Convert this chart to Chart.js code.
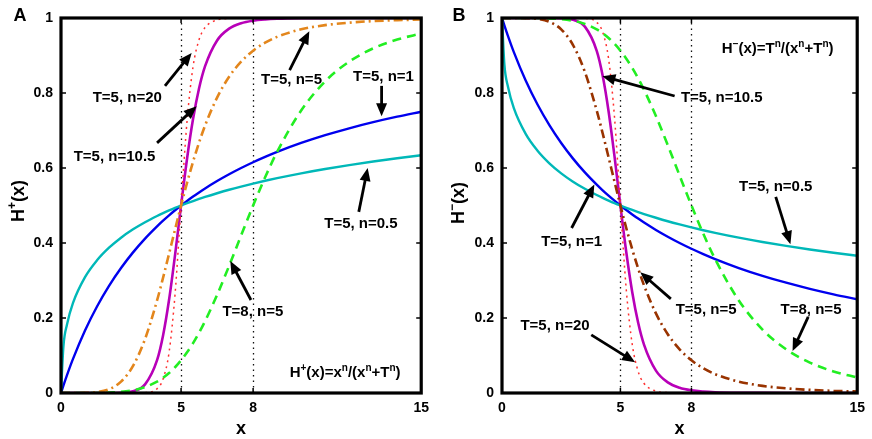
<!DOCTYPE html>
<html><head><meta charset="utf-8">
<script src="https://cdn.jsdelivr.net/npm/chart.js@4.4.0/dist/chart.umd.min.js"></script>
<style>html,body{margin:0;padding:0;background:#fff;}#wrap{position:relative;width:872px;height:439px;}canvas{position:absolute;top:0;}</style>
</head><body>
<div id="wrap"><canvas id="cA" width="436" height="439" style="left:0px"></canvas><canvas id="cB" width="436" height="439" style="left:436px"></canvas></div>
<script>
// ---- data ----
const xs = [0,0.1,0.25,0.5,1,1.5,2,2.5,3,3.5,4,4.25,4.5,4.75,5,5.25,5.5,5.75,6,6.5,7,7.5,8,8.5,9,10,11,12,13,14,15];
const xTicks = [0,5,8,15];
const xTickLabels = ['0','5','8','15'];
const yTicks = [0,0.2,0.4,0.6,0.8,1];
const yTickLabels = ['0','0.2','0.4','0.6','0.8','1'];
const refLines = [5,8];

// Panel A: H+(x)
const upN20  = [0,0,0,0,0,0,0,0,0,0.0008,0.0114,0.0373,0.1084,0.2639,0.5,0.7263,0.8706,0.9424,0.9746,0.9948,0.9988,0.9997,1,1,1,1,1,1,1,1,1];
const upN105 = [0,0,0,0,0,0,0.0001,0.0007,0.0047,0.0231,0.0876,0.1536,0.2486,0.3685,0.5,0.6254,0.7312,0.8127,0.8715,0.9402,0.9716,0.9860,0.9929,0.9962,0.9979,0.9993,0.9997,0.9999,1,1,1];
const upN5   = [0,0,0,0,0.0003,0.0024,0.0101,0.0303,0.0721,0.1439,0.2468,0.3073,0.3713,0.4362,0.5,0.5607,0.6170,0.6679,0.7133,0.7878,0.8432,0.8836,0.9129,0.9342,0.9497,0.9697,0.9810,0.9876,0.9917,0.9942,0.9959];
const upN1   = [0,0.0196,0.0476,0.0909,0.1667,0.2308,0.2857,0.3333,0.3750,0.4118,0.4444,0.4595,0.4737,0.4872,0.5,0.5122,0.5238,0.5349,0.5455,0.5652,0.5833,0.6,0.6154,0.6296,0.6429,0.6667,0.6875,0.7059,0.7222,0.7368,0.75];
const upN05  = [0,0.1239,0.1827,0.2403,0.3090,0.3539,0.3874,0.4142,0.4365,0.4555,0.4721,0.4797,0.4868,0.4936,0.5,0.5061,0.5119,0.5175,0.5228,0.5327,0.5420,0.5505,0.5585,0.5659,0.5729,0.5858,0.5973,0.6077,0.6172,0.6259,0.6340];
const upT8N5 = [0,0,0,0,0,0.0002,0.0010,0.0030,0.0074,0.0158,0.0303,0.0406,0.0533,0.0687,0.0871,0.1085,0.1331,0.1610,0.1918,0.2615,0.3390,0.4200,0.5,0.5752,0.6431,0.7532,0.8310,0.8836,0.9189,0.9426,0.9586];

// Panel B: H-(x)
const dnN20  = [1,1,1,1,1,1,1,1,1,0.9992,0.9886,0.9627,0.8916,0.7361,0.5,0.2737,0.1294,0.0576,0.0254,0.0052,0.0012,0.0003,0,0,0,0,0,0,0,0,0];
const dnN105 = [1,1,1,1,1,1,0.9999,0.9993,0.9953,0.9769,0.9124,0.8464,0.7514,0.6315,0.5,0.3746,0.2688,0.1873,0.1285,0.0598,0.0284,0.0140,0.0071,0.0038,0.0021,0.0007,0.0003,0.0001,0,0,0];
const dnN5   = [1,1,1,1,0.9997,0.9976,0.9899,0.9697,0.9279,0.8561,0.7532,0.6927,0.6287,0.5638,0.5,0.4393,0.3830,0.3321,0.2867,0.2122,0.1568,0.1164,0.0871,0.0658,0.0503,0.0303,0.0190,0.0124,0.0083,0.0058,0.0041];
const dnN1   = [1,0.9804,0.9524,0.9091,0.8333,0.7692,0.7143,0.6667,0.6250,0.5882,0.5556,0.5405,0.5263,0.5128,0.5,0.4878,0.4762,0.4651,0.4545,0.4348,0.4167,0.4,0.3846,0.3704,0.3571,0.3333,0.3125,0.2941,0.2778,0.2632,0.25];
const dnN05  = [1,0.8761,0.8173,0.7597,0.6910,0.6461,0.6126,0.5858,0.5635,0.5445,0.5279,0.5203,0.5132,0.5064,0.5,0.4939,0.4881,0.4825,0.4772,0.4673,0.4580,0.4495,0.4415,0.4341,0.4271,0.4142,0.4027,0.3923,0.3828,0.3741,0.3660];
const dnT8N5 = [1,1,1,1,1,0.9998,0.9990,0.9970,0.9926,0.9842,0.9697,0.9594,0.9467,0.9313,0.9129,0.8915,0.8669,0.8390,0.8082,0.7385,0.6610,0.5800,0.5,0.4248,0.3569,0.2468,0.1690,0.1164,0.0811,0.0574,0.0414];

// annotation labels (text, text anchor in data coords, arrow tail -> head in data coords)
const annotTextA = ['T=5, n=20','T=5, n=10.5','T=5, n=5','T=5, n=1','T=5, n=0.5','T=8, n=5'];
const annotPosA  = [[2.76,0.787],[2.23,0.629],[9.60,0.835],[13.43,0.843],[12.49,0.451],[7.99,0.216]];
const annotArrA  = [[4.33,0.819,5.44,0.907],[4.0,0.667,5.65,0.765],[9.52,0.861,10.34,0.965],[13.35,0.819,13.35,0.738],[12.40,0.483,12.77,0.600],[7.91,0.248,7.05,0.352]];
const annotTextB = ['T=5, n=10.5','T=5, n=0.5','T=5, n=1','T=5, n=5','T=8, n=5','T=5, n=20'];
const annotPosB  = [[9.28,0.787],[11.56,0.549],[2.94,0.403],[8.62,0.221],[13.05,0.221],[2.24,0.179]];
const annotArrB  = [[7.29,0.792,4.24,0.845],[11.56,0.523,12.18,0.397],[2.94,0.44,3.90,0.556],[7.13,0.251,5.84,0.322],[12.93,0.203,12.27,0.112],[3.77,0.155,5.62,0.082]];
const formulaA = [['H',0],['+',1],['(x)=x',0],['n',1],['/(x',0],['n',1],['+T',0],['n',1],[')',0]];
const formulaB = [['H',0],['\u2212',1],['(x)=T',0],['n',1],['/(x',0],['n',1],['+T',0],['n',1],[')',0]];
const formulaPosA = [11.83,0.056];
const formulaPosB = [11.64,0.92];
const yTitleA = [['H',0],['+',1],['(x)',0]];
const yTitleB = [['H',0],['\u2212',1],['(x)',0]];

// ---- drawing ----
const FONT = '"Liberation Sans", Arial, Helvetica, sans-serif';
Chart.defaults.font.family = FONT;

function richWidth(ctx, segs, size){
  let w=0; const sup=Math.round(size*0.66);
  segs.forEach(([t,s])=>{ctx.font=`bold ${s?sup:size}px ${FONT}`; w+=ctx.measureText(t).width;});
  return w;
}
function rich(ctx, segs, cx, cy, size){
  const sup=Math.round(size*0.66);
  const w=richWidth(ctx,segs,size);
  let x=cx-w/2; const base=cy+size*0.36;
  ctx.textAlign='left'; ctx.textBaseline='alphabetic'; ctx.fillStyle='#000';
  segs.forEach(([t,s])=>{ctx.font=`bold ${s?sup:size}px ${FONT}`; ctx.fillText(t,x,s?base-size*0.45:base); x+=ctx.measureText(t).width;});
}
function arrow(ctx,x0,y0,x1,y1){
  const a=Math.atan2(y1-y0,x1-x0), L=13, W=5.5;
  const bx=x1-L*Math.cos(a), by=y1-L*Math.sin(a);
  ctx.save(); ctx.setLineDash([]); ctx.strokeStyle='#000'; ctx.lineWidth=2.8; ctx.lineCap='butt';
  ctx.beginPath(); ctx.moveTo(x0,y0); ctx.lineTo(bx+2*Math.cos(a),by+2*Math.sin(a)); ctx.stroke();
  ctx.fillStyle='#000'; ctx.beginPath(); ctx.moveTo(x1,y1);
  ctx.lineTo(bx+W*Math.sin(a),by-W*Math.cos(a)); ctx.lineTo(bx-W*Math.sin(a),by+W*Math.cos(a)); ctx.closePath(); ctx.fill();
  ctx.restore();
}

function makePanel(id, series, opt){
  const datasets = series.map(s=>({
    data: xs.map((x,i)=>({x:x,y:s.vals[i]})),
    borderColor:s.color, borderWidth:s.w, borderDash:s.dash||[], pointRadius:0,
    cubicInterpolationMode:'monotone', fill:false
  }));
  const deco = {
    id:'deco'+id,
    beforeDatasetsDraw(chart){
      const {ctx,chartArea:ca,scales:{x}}=chart;
      ctx.save(); ctx.strokeStyle='#111'; ctx.lineWidth=1.3; ctx.setLineDash([1.5,4]);
      refLines.forEach(v=>{const px=Math.round(x.getPixelForValue(v))+0.5; ctx.beginPath(); ctx.moveTo(px,ca.bottom); ctx.lineTo(px,ca.top); ctx.stroke();});
      ctx.restore();
    },
    afterDraw(chart){
      const {ctx,chartArea:ca,scales:{x,y}}=chart;
      ctx.save();
      // inward ticks
      ctx.strokeStyle='#000'; ctx.lineWidth=1.5; ctx.setLineDash([]);
      yTicks.forEach(v=>{const py=y.getPixelForValue(v); ctx.beginPath(); ctx.moveTo(ca.left,py); ctx.lineTo(ca.left+5,py); ctx.moveTo(ca.right,py); ctx.lineTo(ca.right-5,py); ctx.stroke();});
      xTicks.forEach(v=>{const px=x.getPixelForValue(v); ctx.beginPath(); ctx.moveTo(px,ca.bottom); ctx.lineTo(px,ca.bottom-5); ctx.moveTo(px,ca.top); ctx.lineTo(px,ca.top+5); ctx.stroke();});
      // frame
      ctx.lineWidth=3.2; ctx.strokeRect(ca.left,ca.top,ca.right-ca.left,ca.bottom-ca.top);
      // annotations
      opt.texts.forEach((t,i)=>{
        const a=opt.arrs[i];
        arrow(ctx,x.getPixelForValue(a[0]),y.getPixelForValue(a[1]),x.getPixelForValue(a[2]),y.getPixelForValue(a[3]));
      });
      ctx.fillStyle='#000'; ctx.textAlign='center'; ctx.textBaseline='middle';
      ctx.font=`bold 15px ${FONT}`;
      opt.texts.forEach((t,i)=>{ctx.fillText(t,x.getPixelForValue(opt.pos[i][0]),y.getPixelForValue(opt.pos[i][1]));});
      rich(ctx,opt.formula,x.getPixelForValue(opt.fpos[0]),y.getPixelForValue(opt.fpos[1]),15);
      // x title
      ctx.font=`bold 18px ${FONT}`; ctx.textAlign='center'; ctx.textBaseline='middle';
      ctx.fillText('x',(ca.left+ca.right)/2,429);
      // y title
      ctx.save(); ctx.translate(opt.ytx,opt.yty); ctx.rotate(-Math.PI/2);
      rich(ctx,opt.ytitle,0,0,18); ctx.restore();
      // panel letter
      ctx.font=`bold 18px ${FONT}`; ctx.textAlign='center'; ctx.textBaseline='middle';
      ctx.fillText(opt.letter,opt.lx,16);
      ctx.restore();
    }
  };
  return new Chart(document.getElementById(id),{
    type:'line',
    data:{datasets},
    options:{
      responsive:false, animation:false,
      layout:{padding:{left:0,right:opt.padR,top:18,bottom:0}},
      plugins:{legend:{display:false},tooltip:{enabled:false}},
      scales:{
        x:{type:'linear',min:0,max:15,
          afterBuildTicks:ax=>{ax.ticks=xTicks.map(v=>({value:v}));},
          afterFit:ax=>{ax.height=46;},
          grid:{display:false,drawTicks:false}, border:{display:false},
          ticks:{autoSkip:false,maxRotation:0,padding:7,color:'#000',font:{size:14,weight:'bold'},callback:(v,i)=>xTickLabels[i]}},
        y:{min:0,max:1,
          afterBuildTicks:ax=>{ax.ticks=yTicks.map(v=>({value:v}));},
          afterFit:ax=>{ax.width=opt.yw;},
          grid:{display:false,drawTicks:false}, border:{display:false},
          ticks:{autoSkip:false,padding:8,color:'#000',font:{size:14,weight:'bold'},callback:(v,i)=>yTickLabels[i]}}
      }
    },
    plugins:[deco]
  });
}

makePanel('cA',[
  {vals:upN5,color:'#E3861C',w:2.6,dash:[9,4,2,4]},
  {vals:upT8N5,color:'#22EE22',w:2.6,dash:[9,6]},
  {vals:upN05,color:'#00B8B8',w:2.4},
  {vals:upN1,color:'#0000EE',w:2.4},
  {vals:upN20,color:'#FF3030',w:1.5,dash:[2,4]},
  {vals:upN105,color:'#B800B8',w:2.6}
],{padR:11,yw:61,texts:annotTextA,pos:annotPosA,arrs:annotArrA,formula:formulaA,fpos:formulaPosA,ytitle:yTitleA,ytx:18,yty:201,letter:'A',lx:20});

makePanel('cB',[
  {vals:dnN5,color:'#993300',w:2.6,dash:[9,4,2,4]},
  {vals:dnT8N5,color:'#22EE22',w:2.6,dash:[9,6]},
  {vals:dnN05,color:'#00B8B8',w:2.4},
  {vals:dnN1,color:'#0000EE',w:2.4},
  {vals:dnN20,color:'#FF3030',w:1.5,dash:[2,4]},
  {vals:dnN105,color:'#B800B8',w:2.6}
],{padR:8,yw:66,texts:annotTextB,pos:annotPosB,arrs:annotArrB,formula:formulaB,fpos:formulaPosB,ytitle:yTitleB,ytx:22,yty:203,letter:'B',lx:23});
</script>
</body></html>
